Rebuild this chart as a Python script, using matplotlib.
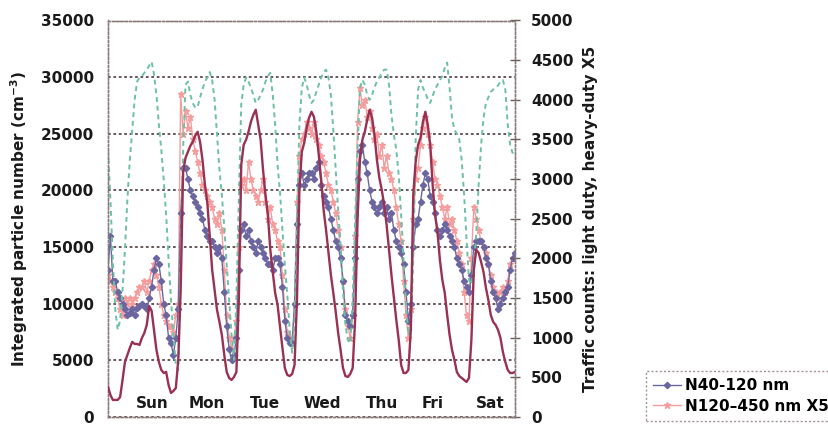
import matplotlib
matplotlib.use("Agg")
import matplotlib.pyplot as plt
import numpy as np

# hours since Sunday 00:00
hours = list(range(0, 169))

n40_120 = [13000, 16000, 12000, 12000, 11000, 10500, 10000, 9500, 9000, 9200, 9500, 9000,
           9600, 9800, 10000, 9800, 9500, 10500, 11500, 13000, 14000, 13500, 12000, 10000,
           9000, 7000, 6500, 5500, 7000, 9500, 18000, 22000, 22000, 21000, 20000, 19500,
           19000, 18500, 18000, 17500, 16500, 16000, 15500, 15500, 15000, 14500, 15000, 14000,
           11000, 8000, 6000, 5000, 5500, 7000, 13000, 16500, 17000, 16000, 16500, 15500,
           15000, 14500, 15500, 15000, 14500, 14000, 13500, 13500, 13000, 14000, 14000, 13500,
           11500, 8500, 7000, 6500, 6500, 10000, 17000, 20500, 21500, 20500, 21000, 21500,
           21500, 21000, 22000, 22500, 20500, 19500, 19000, 18500, 17500, 16500, 15500, 15000,
           14000, 12000, 9000, 8500, 8000, 9000, 14000, 21000, 23500, 24000, 22500, 21500,
           20000, 19000, 18500, 18000, 18500, 19000, 18000, 18500, 17500, 18000, 16500, 15500,
           15000, 14500, 13500, 11000, 8500, 10000, 15000, 17000, 17500, 19000, 20500, 21500,
           21000, 19500, 19000, 18000, 16500, 16000, 16500, 17000, 16500, 16000, 15500, 15000,
           14000, 13500, 13000, 12000, 11500, 11000, 12500, 15000, 15500, 15500, 15500, 15000,
           14000, 13500, 12000, 11000, 10500, 9500, 10000, 10500, 11000, 11500, 13000, 14000,
           14500]

n120_450_x5 = [12500, 12000, 11500, 11000, 10500, 9500, 9000, 10500, 10000, 10500, 10000, 10500,
               11000, 11500, 11500, 12000, 11000, 12000, 13000, 13500, 12500, 11500, 10000, 9000,
               8500, 8000, 8000, 7500, 9000, 10000, 28500, 25000, 27000, 25500, 26500, 24500,
               23500, 22500, 21500, 20500, 20000, 19500, 19000, 18500, 17500, 17000, 18000, 16500,
               13000, 9000, 7000, 6000, 7000, 8500, 15000, 20500, 21000, 20000, 22500, 21000,
               20000, 19500, 19000, 20000, 21000, 19000, 17500, 18500, 17000, 16500, 15500, 15000,
               12500, 9500, 7500, 7000, 6500, 10000, 19000, 23000, 24500, 25000, 26000, 25500,
               25000, 26000, 24500, 24000, 23000, 22500, 21500, 20500, 20000, 19000, 18000, 16500,
               15000, 12000, 9500, 8000, 7000, 9000, 16000, 26000, 29000, 27500, 28000, 26500,
               27000, 25500, 24500, 25000, 23000, 24000, 22000, 23000, 21500, 21000, 20000, 18500,
               17000, 15500, 12000, 9000, 7000, 9500, 17500, 21000, 22000, 24000, 25500, 26500,
               25000, 24000, 22500, 21000, 20500, 19500, 18500, 17500, 18500, 17000, 17500, 16500,
               15500, 14500, 13500, 11000, 9000, 8500, 14000, 18500, 17500, 16500, 15500, 15000,
               14500, 13500, 12500, 11500, 11000, 10500, 11000, 11500, 11000, 12000, 13500, 14000,
               14000]

light_duty = [379, 278, 215, 215, 215, 252, 467, 694, 782, 871, 947, 921,
              921, 909, 997, 1060, 1161, 1400, 1340, 1098, 846, 694, 593, 555,
              568, 404, 303, 328, 366, 719, 1603, 3092, 3269, 3344, 3420, 3470,
              3546, 3597, 3470, 3243, 2928, 2701, 2272, 1855, 1603, 1350, 1199, 1035,
              782, 568, 492, 467, 505, 568, 1477, 3180, 3433, 3496, 3597, 3723,
              3811, 3874, 3685, 3496, 3117, 2802, 2549, 2108, 1830, 1565, 1413, 1136,
              871, 618, 530, 517, 543, 656, 1477, 2865, 3344, 3458, 3647, 3773,
              3849, 3786, 3597, 3306, 2991, 2612, 2360, 2082, 1792, 1565, 1325, 1060,
              846, 618, 517, 505, 543, 618, 1224, 2486, 3243, 3496, 3597, 3748,
              3874, 3773, 3559, 3243, 3016, 2865, 2675, 2423, 2108, 1792, 1514, 1224,
              972, 656, 555, 555, 593, 1098, 2802, 3218, 3433, 3521, 3723, 3849,
              3685, 3433, 2928, 2549, 2335, 1981, 1729, 1565, 1287, 1035, 846, 719,
              568, 517, 492, 467, 442, 492, 972, 1855, 2108, 2070, 1956, 1830,
              1628, 1477, 1287, 1199, 1161, 1098, 997, 820, 694, 593, 555, 555,
              568]

heavy_duty_x5 = [3370, 2740, 1980, 1350, 1100, 1220, 1600, 2110, 2740, 3240, 3620, 4000,
                 4230, 4280, 4300, 4340, 4380, 4430, 4480, 4320, 4060, 3690, 3370, 2990,
                 2550, 1980, 1480, 1030, 660, 590, 1980, 3370, 4190, 4230, 4060, 3960,
                 3900, 3910, 4030, 4130, 4230, 4280, 4350, 4250, 4000, 3560, 3120, 2800,
                 2390, 1920, 1480, 1030, 720, 1480, 2740, 3940, 4190, 4280, 4230, 4150,
                 4060, 3960, 4000, 4060, 4130, 4230, 4300, 4340, 4060, 3690, 3180, 2830,
                 2360, 1920, 1540, 1100, 810, 1220, 2490, 3690, 4150, 4280, 4190, 4060,
                 3960, 4000, 4100, 4190, 4280, 4350, 4380, 4280, 4060, 3620, 3120, 2610,
                 2170, 1600, 1160, 970, 930, 1480, 2490, 3370, 4150, 4250, 4190, 4060,
                 4000, 4060, 4160, 4230, 4280, 4340, 4380, 4380, 4190, 3810, 3560, 3370,
                 3050, 2550, 1980, 1410, 1030, 1100, 1980, 3500, 4130, 4250, 4150, 4090,
                 4000, 3960, 4050, 4130, 4190, 4250, 4300, 4400, 4470, 4150, 3770, 3620,
                 3570, 3500, 3240, 2800, 2230, 1730, 1670, 1920, 2300, 2930, 3430, 3770,
                 3960, 4030, 4100, 4130, 4150, 4180, 4230, 4250, 4130, 3690, 3430, 3330,
                 3390]

day_labels = ["Sun", "Mon", "Tue", "Wed", "Thu", "Fri", "Sat"]
day_label_hours = [18.2, 40.9, 64.8, 88.4, 113.1, 134.2, 157.7]

left_ticks = list(range(0, 35001, 5000))
right_ticks = list(range(0, 5001, 500))

plt.rcParams['font.family'] = ['DejaVu Sans']
plt.rcParams['font.weight'] = 'bold'
plt.rcParams['axes.labelweight'] = 'bold'
fig = plt.figure(figsize=(8.29, 4.32), dpi=100)
ax1 = fig.add_axes([108/829, 1 - 417/432, (515-108)/829, (417-20.5)/432])
ax2 = ax1.twinx()

c_purple = '#6c66a0'
c_pink = '#f59c9c'
c_red = '#9a3052'
c_teal = '#6cc0a6'
txt_c = '#1a1a1a'

l1, = ax1.plot(hours, n40_120, color=c_purple, lw=1.0, marker='D', ms=3.2,
               mec=c_purple, mfc=c_purple, label='N40-120 nm', zorder=3)
l2, = ax1.plot(hours, n120_450_x5, color=c_pink, lw=1.0, marker='*', ms=5,
               mec=c_pink, mfc=c_pink, label='N120\u2013450 nm X5', zorder=2)
ax2.plot(hours, light_duty, color=c_red, lw=1.7, zorder=3)
ax2.plot(hours, heavy_duty_x5, color=c_teal, lw=1.4, ls=(0, (2.5, 2)), zorder=2)

ax1.set_xlim(0, 168)
ax1.set_ylim(0, 35000)
ax2.set_ylim(0, 5000)
ax1.set_yticks(left_ticks)
ax2.set_yticks(right_ticks)
ax1.set_xticks([])

grid_c = '#5a4a4a'
ax1.grid(axis='y', color=grid_c, ls=(0, (1.5, 1.5)), lw=1.3)
ax1.set_axisbelow(True)
for ax in (ax1, ax2):
    for s in ax.spines.values():
        s.set_color('#8a7a7a')
        s.set_linestyle((0, (1.5, 1.5)))
        s.set_linewidth(1.0)

ax1.tick_params(axis='y', length=0, labelsize=11, pad=10, labelcolor=txt_c)
ax2.tick_params(axis='y', direction='inout', length=7, width=1, color='#6a5a5a',
                labelsize=11, pad=8, labelcolor=txt_c)

ax1.set_ylabel('Integrated particle number (cm$^{-3}$)', fontsize=11, labelpad=8,
               color=txt_c)
ax2.set_ylabel('Traffic counts: light duty, heavy-duty X5', fontsize=11, labelpad=7,
               color=txt_c)

for d, h in zip(day_labels, day_label_hours):
    ax1.text(h, 1150, d, ha='center', va='center', fontsize=11, zorder=5, color=txt_c)

leg = fig.legend(handles=[l1, l2], loc='upper left',
                 bbox_to_anchor=(638/829, 1 - 363/432), fontsize=11,
                 frameon=True, fancybox=False, handlelength=1.8,
                 borderpad=0.5, labelspacing=0.35, handletextpad=0.3)
leg.get_frame().set_edgecolor('#8a7a7a')
leg.get_frame().set_linestyle((0, (1.5, 1.5)))

fig.savefig('out.png', dpi=100)
